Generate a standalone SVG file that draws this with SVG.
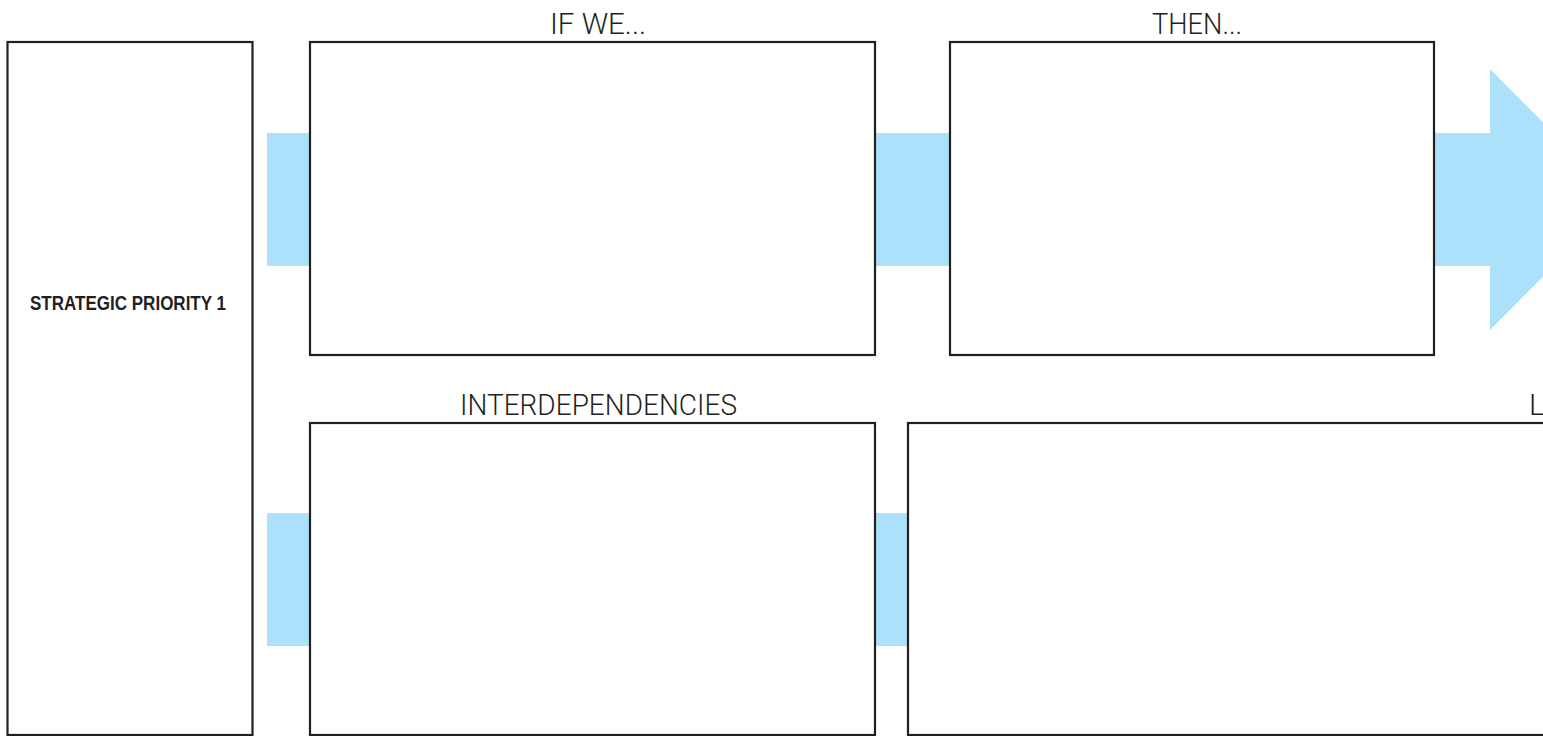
<svg xmlns="http://www.w3.org/2000/svg" width="1543" height="736" viewBox="0 0 1543 736">
<style>
.box{fill:#ffffff;stroke:#231f20;stroke-width:2.2}
.conn{fill:#abe1fa;stroke:none}
.lbl{font-family:Roboto,"Liberation Sans",sans-serif;font-weight:300;font-size:30px;fill:#231f20}
.title{font-family:"Liberation Sans",Arial,sans-serif;font-weight:bold;font-size:20px;fill:#231f20}
</style>
<rect width="1543" height="736" fill="#ffffff"/>
<g id="connectors">
<rect class="conn" x="267" y="133" width="44" height="133"/>
<rect class="conn" x="874" y="133" width="77" height="133"/>
<polygon class="conn" points="1433,133 1490,133 1490,69 1620,199.5 1490,330 1490,266 1433,266"/>
<rect class="conn" x="267" y="513" width="44" height="133"/>
<rect class="conn" x="874" y="513" width="35" height="133"/>
</g>
<g id="strategic-priority">
<rect class="box" x="7.5" y="42" width="245" height="693"/>
<text class="title" x="30" y="309.5" textLength="196" lengthAdjust="spacingAndGlyphs">STRATEGIC PRIORITY 1</text>
</g>
<g id="if-we">
<rect class="box" x="310" y="42" width="565" height="313"/>
<text class="lbl" x="550" y="34" textLength="96" lengthAdjust="spacingAndGlyphs">IF WE...</text>
</g>
<g id="then">
<rect class="box" x="950" y="42" width="484" height="313"/>
<text class="lbl" x="1152" y="34" textLength="90" lengthAdjust="spacingAndGlyphs">THEN...</text>
</g>
<g id="interdependencies">
<rect class="box" x="310" y="423" width="565" height="312"/>
<text class="lbl" x="460" y="415" textLength="277" lengthAdjust="spacingAndGlyphs">INTERDEPENDENCIES</text>
</g>
<g id="lower-right">
<rect class="box" x="908" y="423" width="700" height="312"/>
<text class="lbl" x="1529" y="415">L</text>
</g>
</svg>
